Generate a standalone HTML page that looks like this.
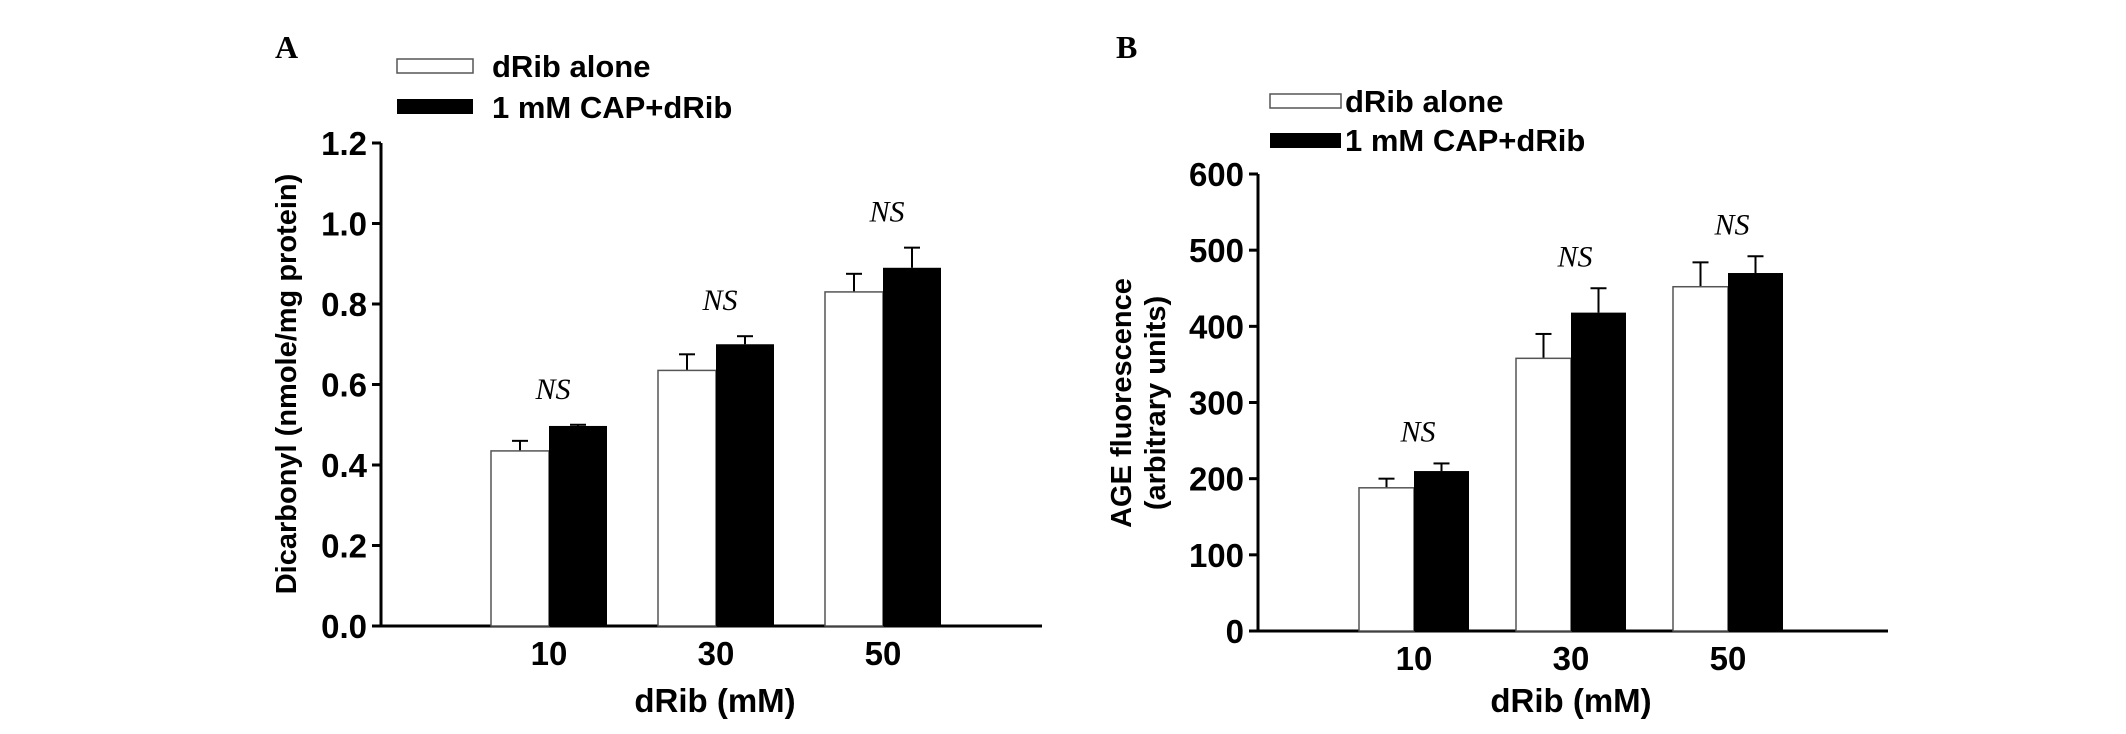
<!DOCTYPE html>
<html><head><meta charset="utf-8"><style>
html,body{margin:0;padding:0;background:#fff;}
svg{display:block;font-family:"Liberation Sans",sans-serif;}
</style></head><body>
<svg id="chart" width="2126" height="734" viewBox="0 0 2126 734"></svg>
<script>
// Panel A data
const catsA = ["10","30","50"];
const whiteA = [0.435,0.635,0.83];
const whiteErrA = [0.025,0.04,0.045];
const blackA = [0.497,0.70,0.89];
const blackErrA = [0.003,0.02,0.05];
const ticksA = [0,0.2,0.4,0.6,0.8,1.0,1.2];
const tickLabelsA = ["0.0","0.2","0.4","0.6","0.8","1.0","1.2"];
// Panel B data
const catsB = ["10","30","50"];
const whiteB = [188,358,452];
const whiteErrB = [12,32,32];
const blackB = [210,418,470];
const blackErrB = [10,32,22];
const ticksB = [0,100,200,300,400,500,600];
const tickLabelsB = ["0","100","200","300","400","500","600"];
const nsA = ["NS","NS","NS"];
const nsB = ["NS","NS","NS"];

const svg = document.getElementById('chart');
const NS = "http://www.w3.org/2000/svg";
function mk(tag, attrs, parent){const e=document.createElementNS(NS,tag);for(const k in attrs)e.setAttribute(k,attrs[k]);(parent||svg).appendChild(e);return e;}

function panel(cfg){
  const g = mk('g',{});
  
  
  const y = v => cfg.y0 - (v - cfg.ymin)/(cfg.ymax-cfg.ymin)*(cfg.y0-cfg.y1);
  // axes
  const ya = mk('line',{x1:cfg.ax,y1:cfg.y1,x2:cfg.ax,y2:cfg.y0,stroke:'#000','stroke-width':3},g);
  
  
  const xa = mk('line',{x1:cfg.ax-8,y1:cfg.y0,x2:cfg.xend,y2:cfg.y0,stroke:'#000','stroke-width':3},g);
  
  
  cfg.ticks.forEach((t,i)=>{
    mk('line',{x1:cfg.ax-9,y1:y(t),x2:cfg.ax,y2:y(t),stroke:'#000','stroke-width':3},g);
    const tl = mk('text',{x:cfg.ax-14,y:y(t)+12,'text-anchor':'end','font-size':33,'font-weight':'bold'},g);
    tl.textContent = cfg.tickLabels[i];
    
    
  });
  cfg.cats.forEach((c,i)=>{
    const cx = cfg.c0 + i*cfg.step;
    const bw = cfg.bw;
    // white bar
    const wt = y(cfg.white[i]);
    mk('line',{x1:cfg.c0+i*cfg.step-bw/2,y1:wt,x2:cx-bw/2,y2:y(cfg.white[i]+cfg.whiteErr[i]),stroke:'#000','stroke-width':2},g).remove();
    const ex1 = cx - bw/2;
    mk('line',{x1:ex1,y1:wt,x2:ex1,y2:y(cfg.white[i]+cfg.whiteErr[i]),stroke:'#000','stroke-width':2},g);
    mk('line',{x1:ex1-8,y1:y(cfg.white[i]+cfg.whiteErr[i]),x2:ex1+8,y2:y(cfg.white[i]+cfg.whiteErr[i]),stroke:'#000','stroke-width':2},g);
    const wb = mk('rect',{x:cx-bw,y:wt,width:bw,height:cfg.y0-wt,fill:'#fff',stroke:'#555','stroke-width':1.5},g);
    
    
    const bt = y(cfg.black[i]);
    const ex2 = cx + bw/2;
    mk('line',{x1:ex2,y1:bt,x2:ex2,y2:y(cfg.black[i]+cfg.blackErr[i]),stroke:'#000','stroke-width':2},g);
    mk('line',{x1:ex2-8,y1:y(cfg.black[i]+cfg.blackErr[i]),x2:ex2+8,y2:y(cfg.black[i]+cfg.blackErr[i]),stroke:'#000','stroke-width':2},g);
    const bb = mk('rect',{x:cx,y:bt,width:bw,height:cfg.y0-bt,fill:'#000'},g);
    
    
    const xl = mk('text',{x:cx,y:cfg.y0+39,'text-anchor':'middle','font-size':33,'font-weight':'bold'},g);
    xl.textContent = c;
    
    
    const top = Math.max(cfg.white[i]+cfg.whiteErr[i], cfg.black[i]+cfg.blackErr[i]);
    const ns = mk('text',{x:cx+4,y:y(top)-cfg.nsGap,'text-anchor':'middle','font-size':30,'font-style':'italic','font-family':'Liberation Serif, serif'},g);
    ns.textContent = cfg.ns[i];
    
    
  });
  const xt = mk('text',{x:cfg.xtx,y:712,'text-anchor':'middle','font-size':33,'font-weight':'bold'},g);
  xt.textContent = 'dRib (mM)';
  
  
  return y;
}

panel({name:'panel-a',ax:381,y0:626,y1:143,ymin:0,ymax:1.2,xend:1042,c0:549,step:167,bw:58,
  cats:catsA,white:whiteA,whiteErr:whiteErrA,black:blackA,blackErr:blackErrA,ticks:ticksA,tickLabels:tickLabelsA,ns:nsA,nsGap:26,xtx:715});
panel({name:'panel-b',ax:1258,y0:631,y1:174,ymin:0,ymax:600,xend:1888,c0:1414,step:157,bw:55,
  cats:catsB,white:whiteB,whiteErr:whiteErrB,black:blackB,blackErr:blackErrB,ticks:ticksB,tickLabels:tickLabelsB,ns:nsB,nsGap:22,xtx:1571});

function txt(x,y,s,attrs,name){const t=mk('text',Object.assign({x:x,y:y},attrs));t.textContent=s;return t;}
txt(275,58,'A',{'font-size':32,'font-weight':'bold','font-family':'Liberation Serif, serif'},'panel-label-a');
txt(1116,58,'B',{'font-size':32,'font-weight':'bold','font-family':'Liberation Serif, serif'},'panel-label-b');
// legends
let r;
r=mk('rect',{x:397,y:59,width:76,height:14,fill:'#fff',stroke:'#555','stroke-width':1.5});
r=mk('rect',{x:397,y:99,width:76,height:15,fill:'#000'});
txt(492,77,'dRib alone',{'font-size':31,'font-weight':'bold'},'legend-label-drib-alone');
txt(492,118,'1 mM CAP+dRib',{'font-size':31,'font-weight':'bold'},'legend-label-cap-drib');
r=mk('rect',{x:1270,y:94,width:71,height:14,fill:'#fff',stroke:'#555','stroke-width':1.5});
r=mk('rect',{x:1270,y:133,width:71,height:15,fill:'#000'});
txt(1345,112,'dRib alone',{'font-size':31,'font-weight':'bold'},'legend-label-drib-alone-b');
txt(1345,151,'1 mM CAP+dRib',{'font-size':31,'font-weight':'bold'},'legend-label-cap-drib-b');
// y titles
txt(0,0,'Dicarbonyl (nmole/mg protein)',{'font-size':29,'font-weight':'bold','text-anchor':'middle',transform:'translate(296,384) rotate(-90)'},'y-axis-title-a');
txt(0,0,'AGE fluorescence',{'font-size':29,'font-weight':'bold','text-anchor':'middle',transform:'translate(1131,403) rotate(-90)'},'y-axis-title-b');
txt(0,0,'(arbitrary units)',{'font-size':29,'font-weight':'bold','text-anchor':'middle',transform:'translate(1165,403) rotate(-90)'},'y-axis-title-b-units');
</script>
</body></html>
